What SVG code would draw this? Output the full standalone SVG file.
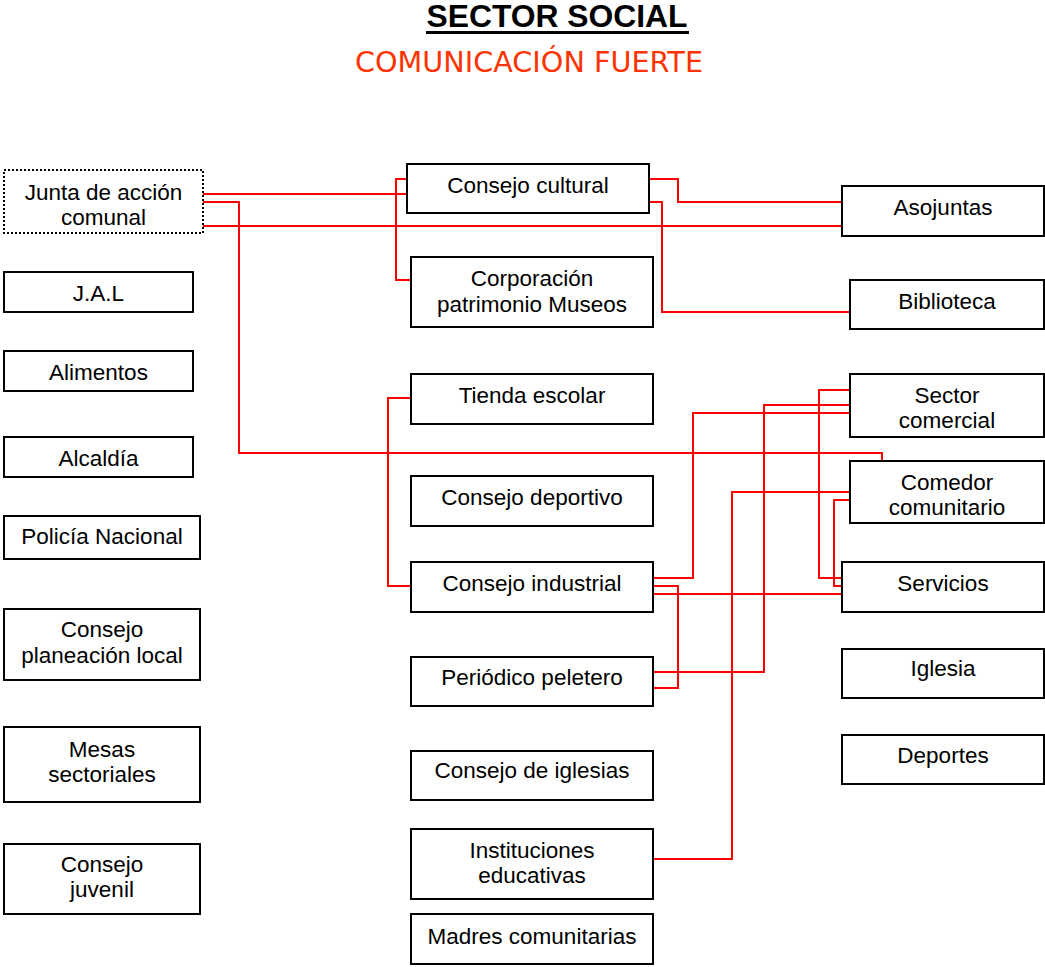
<svg xmlns="http://www.w3.org/2000/svg" width="1045" height="967" viewBox="0 0 1045 967">
<style>
.box{fill:#fff;stroke:#000;stroke-width:2}
.dot{fill:#fff;stroke:#000;stroke-width:2;stroke-dasharray:2 2}
.t{font-family:"Liberation Sans",Arial,sans-serif;font-size:22.5px;fill:#000;text-anchor:middle}
.c{fill:none;stroke:#ff0000;stroke-width:2}
</style>
<rect width="1045" height="967" fill="#fff"/>
<g id="title">
<text x="557" y="27" font-family="Liberation Sans,Arial,sans-serif" font-size="32" font-weight="bold" text-anchor="middle" textLength="261" lengthAdjust="spacingAndGlyphs">SECTOR SOCIAL</text>
<rect x="426" y="31" width="263" height="3" fill="#000"/>
<text x="529" y="72" font-family="DejaVu Sans,sans-serif" font-size="29" fill="#ff3300" text-anchor="middle" textLength="348" lengthAdjust="spacingAndGlyphs">COMUNICACIÓN FUERTE</text>
</g>
<g id="connectors">
<path class="c" d="M200,194 H412"/>
<path class="c" d="M412,179 H396 V280 H411"/>
<path class="c" d="M200,226 H842"/>
<path class="c" d="M200,202 H239 V453 H882 V461"/>
<path class="c" d="M647,179 H678 V202 H842"/>
<path class="c" d="M647,202 H662 V312 H850"/>
<path class="c" d="M411,398 H388 V586 H411"/>
<path class="c" d="M653,578 H693 V413 H850"/>
<path class="c" d="M653,586 H678 V688 H653"/>
<path class="c" d="M653,594 H842"/>
<path class="c" d="M653,672 H764 V405 H850"/>
<path class="c" d="M653,859 H732 V492 H850"/>
<path class="c" d="M850,390 H819 V578 H842"/>
<path class="c" d="M850,500 H834 V586 H842"/>
</g>
<g id="n-junta"><rect class="dot" x="4" y="170" width="199" height="63"/><text class="t" x="103.5" y="200">Junta de acción</text><text class="t" x="103.5" y="225">comunal</text></g>
<g id="n-jal"><rect class="box" x="4" y="272" width="189" height="40"/><text class="t" x="98.5" y="301">J.A.L</text></g>
<g id="n-alimentos"><rect class="box" x="4" y="351" width="189" height="40"/><text class="t" x="98.5" y="380">Alimentos</text></g>
<g id="n-alcaldia"><rect class="box" x="4" y="437" width="189" height="40"/><text class="t" x="98.5" y="466">Alcaldía</text></g>
<g id="n-policia"><rect class="box" x="4" y="516" width="196" height="43"/><text class="t" x="102" y="544">Policía Nacional</text></g>
<g id="n-planeacion"><rect class="box" x="4" y="609" width="196" height="71"/><text class="t" x="102" y="637">Consejo</text><text class="t" x="102" y="663">planeación local</text></g>
<g id="n-mesas"><rect class="box" x="4" y="727" width="196" height="75"/><text class="t" x="102" y="757">Mesas</text><text class="t" x="102" y="782">sectoriales</text></g>
<g id="n-juvenil"><rect class="box" x="4" y="844" width="196" height="70"/><text class="t" x="102" y="872">Consejo</text><text class="t" x="102" y="897">juvenil</text></g>
<g id="n-cultural"><rect class="box" x="407" y="164" width="242" height="49"/><text class="t" x="528" y="193">Consejo cultural</text></g>
<g id="n-corporacion"><rect class="box" x="411" y="257" width="242" height="70"/><text class="t" x="532" y="286">Corporación</text><text class="t" x="532" y="312">patrimonio Museos</text></g>
<g id="n-tienda"><rect class="box" x="411" y="374" width="242" height="50"/><text class="t" x="532" y="403">Tienda escolar</text></g>
<g id="n-deportivo"><rect class="box" x="411" y="476" width="242" height="50"/><text class="t" x="532" y="505">Consejo deportivo</text></g>
<g id="n-industrial"><rect class="box" x="411" y="562" width="242" height="50"/><text class="t" x="532" y="591">Consejo industrial</text></g>
<g id="n-periodico"><rect class="box" x="411" y="657" width="242" height="49"/><text class="t" x="532" y="685">Periódico peletero</text></g>
<g id="n-iglesias"><rect class="box" x="411" y="751" width="242" height="49"/><text class="t" x="532" y="778">Consejo de iglesias</text></g>
<g id="n-instituciones"><rect class="box" x="411" y="829" width="242" height="70"/><text class="t" x="532" y="858">Instituciones</text><text class="t" x="532" y="883">educativas</text></g>
<g id="n-madres"><rect class="box" x="411" y="914" width="242" height="50"/><text class="t" x="532" y="944">Madres comunitarias</text></g>
<g id="n-asojuntas"><rect class="box" x="842" y="186" width="202" height="50"/><text class="t" x="943" y="215">Asojuntas</text></g>
<g id="n-biblioteca"><rect class="box" x="850" y="280" width="194" height="49"/><text class="t" x="947" y="309">Biblioteca</text></g>
<g id="n-comercial"><rect class="box" x="850" y="374" width="194" height="63"/><text class="t" x="947" y="403">Sector</text><text class="t" x="947" y="428">comercial</text></g>
<g id="n-comedor"><rect class="box" x="850" y="461" width="194" height="62"/><text class="t" x="947" y="490">Comedor</text><text class="t" x="947" y="515">comunitario</text></g>
<g id="n-servicios"><rect class="box" x="842" y="562" width="202" height="50"/><text class="t" x="943" y="591">Servicios</text></g>
<g id="n-iglesia"><rect class="box" x="842" y="649" width="202" height="49"/><text class="t" x="943" y="676">Iglesia</text></g>
<g id="n-deportes"><rect class="box" x="842" y="735" width="202" height="49"/><text class="t" x="943" y="763">Deportes</text></g>
</svg>
